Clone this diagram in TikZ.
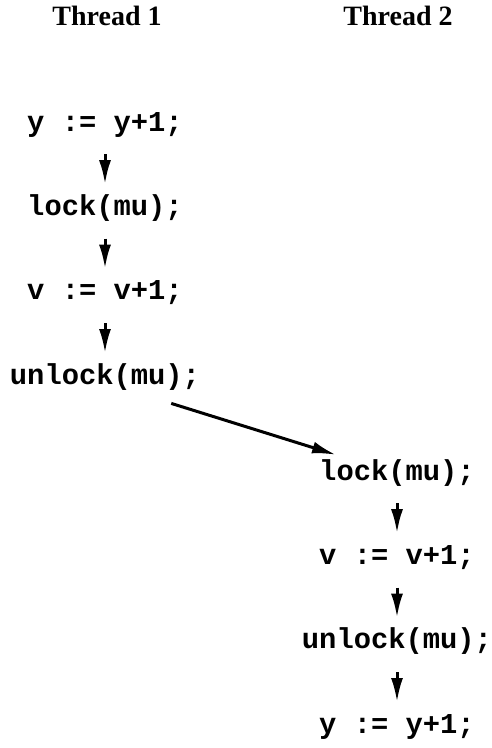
\documentclass[tikz,border=0pt]{standalone}
\usepackage{fontspec}
\setmainfont{Liberation Serif}
\setmonofont{Liberation Mono}
\usetikzlibrary{arrows.meta, positioning, calc}

\begin{document}
\begin{tikzpicture}[x=1pt, y=-1pt, node distance=62pt,
    thread/.style={font=\fontsize{28}{30}\selectfont\bfseries, anchor=base, inner sep=0pt},
    stmt/.style={font=\fontsize{28.8}{30}\selectfont\ttfamily\bfseries, inner sep=0pt,
      text height=17pt, text depth=5pt},
    flow/.style={-{Latex[length=24pt, width=12pt]}, line width=3pt},
    seq/.style={flow, shorten <=18pt, shorten >=14pt}
  ]
  \useasboundingbox (0,0) rectangle (491,748);

  % Headers
  \node[thread] (h1) at (107, 25) {Thread 1};
  \node[thread] (h2) at (398, 25) {Thread 2};

  % Thread 1
  \node[stmt, anchor=base] (t1a) at (105, 131) {y := y+1;};
  \node[stmt, below=of t1a] (t1b) {lock(mu);};
  \node[stmt, below=of t1b] (t1c) {v := v+1;};
  \node[stmt, below=of t1c] (t1d) {unlock(mu);};

  % Thread 2
  \node[stmt, anchor=base] (t2a) at (397, 480) {lock(mu);};
  \node[stmt, below=of t2a] (t2b) {v := v+1;};
  \node[stmt, below=of t2b] (t2c) {unlock(mu);};
  \node[stmt, below=of t2c] (t2d) {y := y+1;};

  % Program order
  \draw[seq] (t1a) -- (t1b);
  \draw[seq] (t1b) -- (t1c);
  \draw[seq] (t1c) -- (t1d);
  \draw[seq] (t2a) -- (t2b);
  \draw[seq] (t2b) -- (t2c);
  \draw[seq] (t2c) -- (t2d);

  % Release -> acquire
  \coordinate (rel) at ($(t1d.south east)+(-29, 14)$);
  \coordinate (acq) at ($(t2a.north west)+(17, -8)$);
  \draw[flow] (rel) -- (acq);
\end{tikzpicture}
\end{document}
